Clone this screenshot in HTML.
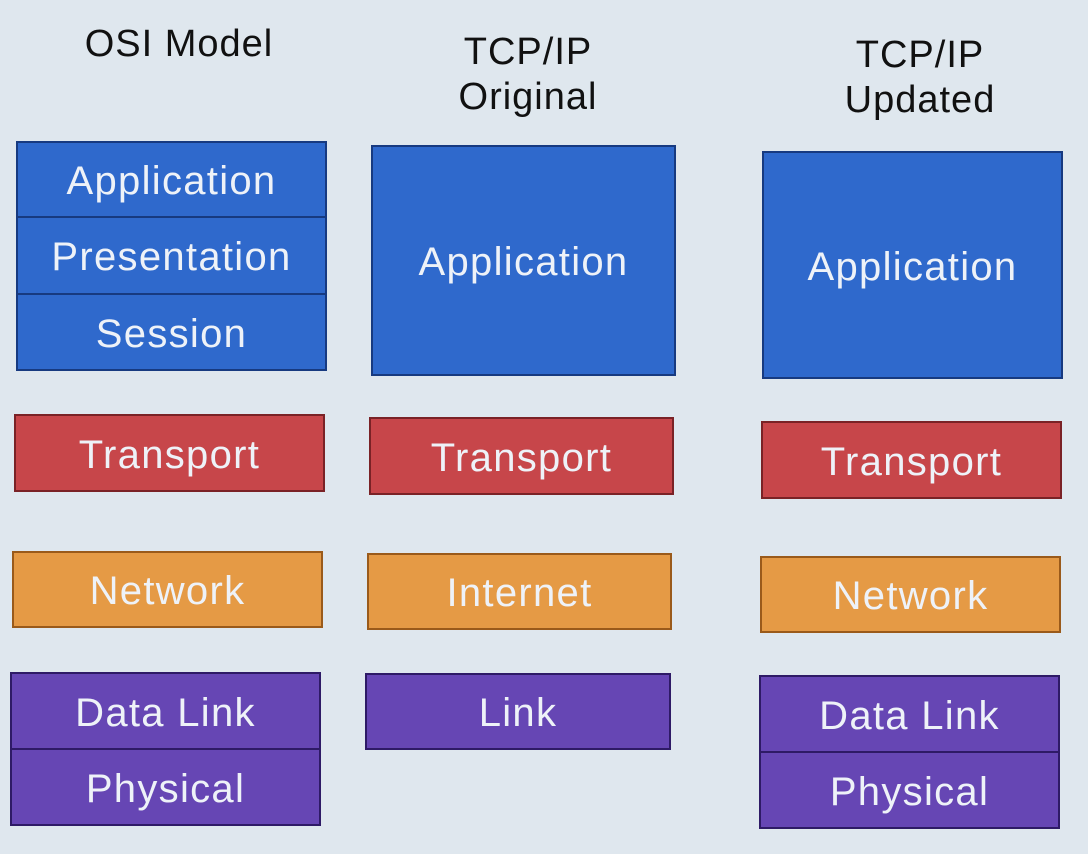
<!DOCTYPE html>
<html><head><style>
body{margin:0;width:1088px;height:854px;background:#dfe7ee;position:relative;overflow:hidden;font-family:"Liberation Sans",sans-serif}
.b{position:absolute;border:2px solid #1c2a55;box-sizing:border-box;color:#eef2f8;font-size:40px;letter-spacing:1.3px;display:flex;align-items:center;justify-content:center;padding-top:4px}
.blue{background:#2f69cc;border-color:#173a80}
.red{background:#c7464a;border-color:#7a2226}
.org{background:#e59a45;border-color:#9a5a1a}
.pur{background:#6646b4;border-color:#2e1a66}
.h{position:absolute;color:#111;font-size:38px;letter-spacing:1px;text-align:center;line-height:45px}
</style></head><body>
<div class="h" style="left:59px;top:22px;width:240px">OSI Model</div>
<div class="h" style="left:403px;top:30px;width:250px">TCP/IP<br>Original</div>
<div class="h" style="left:800px;top:33px;width:240px">TCP/IP<br>Updated</div>

<div class="b blue" style="left:16px;top:141px;width:311px;height:77px">Application</div>
<div class="b blue" style="left:16px;top:216px;width:311px;height:79px">Presentation</div>
<div class="b blue" style="left:16px;top:293px;width:311px;height:78px">Session</div>
<div class="b red" style="left:14px;top:414px;width:311px;height:78px">Transport</div>
<div class="b org" style="left:12px;top:551px;width:311px;height:77px">Network</div>
<div class="b pur" style="left:10px;top:672px;width:311px;height:78px">Data Link</div>
<div class="b pur" style="left:10px;top:748px;width:311px;height:78px">Physical</div>

<div class="b blue" style="left:371px;top:145px;width:305px;height:231px">Application</div>
<div class="b red" style="left:369px;top:417px;width:305px;height:78px">Transport</div>
<div class="b org" style="left:367px;top:553px;width:305px;height:77px">Internet</div>
<div class="b pur" style="left:365px;top:673px;width:306px;height:77px">Link</div>

<div class="b blue" style="left:762px;top:151px;width:301px;height:228px">Application</div>
<div class="b red" style="left:761px;top:421px;width:301px;height:78px">Transport</div>
<div class="b org" style="left:760px;top:556px;width:301px;height:77px">Network</div>
<div class="b pur" style="left:759px;top:675px;width:301px;height:78px">Data Link</div>
<div class="b pur" style="left:759px;top:751px;width:301px;height:78px">Physical</div>
</body></html>
